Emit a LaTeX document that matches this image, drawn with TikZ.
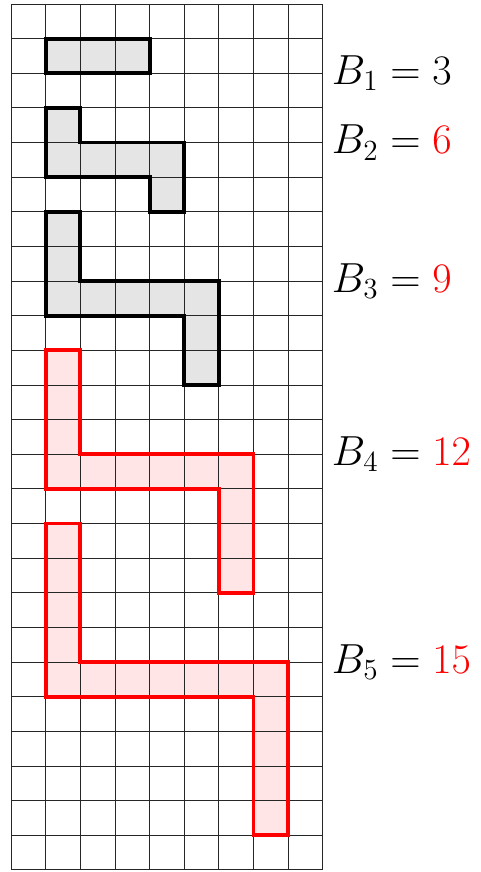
\documentclass[tikz,border=0pt]{standalone}
\usepackage{tikz}
\usetikzlibrary{positioning}

\begin{document}
\begin{tikzpicture}[
        x=0.5cm, y=0.5cm,
        gridline/.style={line width=0.4pt, black!85},
        blockgray/.style={draw=black, fill=black!10, line width=1.6pt},
        blockred/.style={draw=red, fill=red!10, line width=1.6pt},
        bound/.style={anchor=west, inner sep=0pt, font=\fontsize{18.5}{22}\selectfont}
    ]

    \useasboundingbox (-0.32,-0.06) rectangle (13.56,25.115);

    % Shapes
    \fill[black!10] (1,24) -- (4,24) -- (4,23) -- (1,23) -- cycle;
    \fill[black!10] (1,22) -- (2,22) -- (2,21) -- (5,21) -- (5,19) -- (4,19) -- (4,20) -- (1,20) -- cycle;
    \fill[black!10] (1,19) -- (2,19) -- (2,17) -- (6,17) -- (6,14) -- (5,14) -- (5,16) -- (1,16) -- cycle;
    \fill[red!10] (1,15) -- (2,15) -- (2,12) -- (7,12) -- (7,8) -- (6,8) -- (6,11) -- (1,11) -- cycle;
    \fill[red!10] (1,10) -- (2,10) -- (2,6) -- (8,6) -- (8,1) -- (7,1) -- (7,5) -- (1,5) -- cycle;

    % Grid
    \draw[gridline, step=0.5cm] (0,0) grid (9,25);

    % Outlines above the grid
    \draw[blockgray, fill=none] (1,24) -- (4,24) -- (4,23) -- (1,23) -- cycle;
    \draw[blockgray, fill=none] (1,22) -- (2,22) -- (2,21) -- (5,21) -- (5,19) -- (4,19) -- (4,20) -- (1,20) -- cycle;
    \draw[blockgray, fill=none] (1,19) -- (2,19) -- (2,17) -- (6,17) -- (6,14) -- (5,14) -- (5,16) -- (1,16) -- cycle;
    \draw[blockred, fill=none] (1,15) -- (2,15) -- (2,12) -- (7,12) -- (7,8) -- (6,8) -- (6,11) -- (1,11) -- cycle;
    \draw[blockred, fill=none] (1,10) -- (2,10) -- (2,6) -- (8,6) -- (8,1) -- (7,1) -- (7,5) -- (1,5) -- cycle;

    % Labels
    \node[bound] (b1) at (9.25,23) {$B_1 = 3$};
    \node[bound] (b2) at (9.25,21) {$B_2 = \textcolor{red}{6}$};
    \node[bound] (b3) at (9.25,17) {$B_3 = \textcolor{red}{9}$};
    \node[bound] (b4) at (9.25,12) {$B_4 = \textcolor{red}{12}$};
    \node[bound] (b5) at (9.25,6) {$B_5 = \textcolor{red}{15}$};

\end{tikzpicture}
\end{document}
